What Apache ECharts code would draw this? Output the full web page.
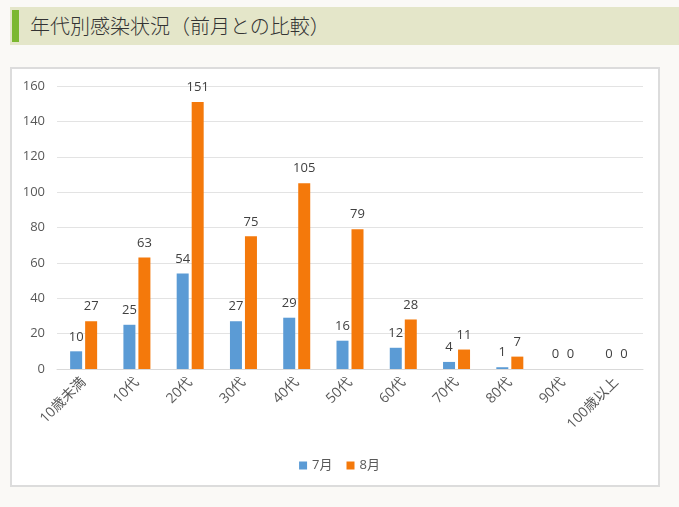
<!DOCTYPE html>
<html>
<head>
<meta charset="utf-8">
<script src="https://cdn.jsdelivr.net/npm/echarts@6/dist/echarts.min.js"></script>
<style>
  body {
    margin: 0;
    background: #faf9f6;
    font-family: "Noto Sans CJK JP", "Noto Sans", sans-serif;
  }
  .title-bar {
    position: absolute;
    left: 10px;
    top: 7px;
    width: 669px;
    height: 38px;
    background: #e4e6c9;
  }
  .title-bar .mark {
    position: absolute;
    left: 2px;
    top: 3px;
    width: 7px;
    height: 32px;
    background: #7cb82f;
  }
  .title-bar .text {
    position: absolute;
    left: 20px;
    top: 0;
    line-height: 38px;
    font-size: 20px;
    font-weight: 300;
    color: #333333;
  }
  .chart-box {
    position: absolute;
    left: 10px;
    top: 67px;
    width: 650px;
    height: 420px;
    box-sizing: border-box;
    border: 2px solid #dcdcdc;
    background: #ffffff;
  }
  #chart {
    position: absolute;
    left: 0;
    top: 0;
    width: 679px;
    height: 507px;
  }
</style>
</head>
<body>
<div class="title-bar"><div class="mark"></div><div class="text">年代別感染状況（前月との比較）</div></div>
<div class="chart-box"></div>
<div id="chart"></div>
<script>
const categories = ['10歳未満', '10代', '20代', '30代', '40代', '50代', '60代', '70代', '80代', '90代', '100歳以上']
const julyValues = [10, 25, 54, 27, 29, 16, 12, 4, 1, 0, 0]
const augustValues = [27, 63, 151, 75, 105, 79, 28, 11, 7, 0, 0]
const seriesNames = ['7月', '8月']

const chart = echarts.init(document.getElementById('chart'))

const labelStyle = {
  show: true,
  position: 'top',
  distance: 8,
  color: '#404040',
  fontSize: 13
}

chart.setOption({
  textStyle: {
    fontFamily: '"Open Sans", "Noto Sans CJK JP", sans-serif'
  },
  legend: {
    data: seriesNames,
    left: 'center',
    top: 454,
    itemWidth: 8,
    itemHeight: 8,
    itemGap: 14,
    icon: 'rect',
    textStyle: {
      color: '#595959',
      fontSize: 13
    }
  },
  grid: {
    left: 57,
    top: 86,
    width: 586,
    height: 283
  },
  xAxis: {
    type: 'category',
    data: categories,
    axisTick: { show: false },
    axisLine: {
      lineStyle: { color: '#d9d9d9', width: 1 }
    },
    axisLabel: {
      rotate: 45,
      interval: 0,
      margin: 11,
      color: '#595959',
      fontSize: 14
    }
  },
  yAxis: {
    type: 'value',
    min: 0,
    max: 160,
    interval: 20,
    axisLine: { show: false },
    axisTick: { show: false },
    splitLine: {
      lineStyle: { color: '#e3e3e3', width: 1 }
    },
    axisLabel: {
      margin: 12,
      color: '#595959',
      fontSize: 13
    }
  },
  series: [
    {
      name: seriesNames[0],
      type: 'bar',
      barWidth: 12,
      barGap: '25%',
      itemStyle: { color: '#5b9bd5' },
      label: labelStyle,
      data: julyValues
    },
    {
      name: seriesNames[1],
      type: 'bar',
      barWidth: 12,
      barGap: '25%',
      itemStyle: { color: '#f4790b' },
      label: labelStyle,
      data: augustValues
    }
  ]
})
</script>
</body>
</html>
